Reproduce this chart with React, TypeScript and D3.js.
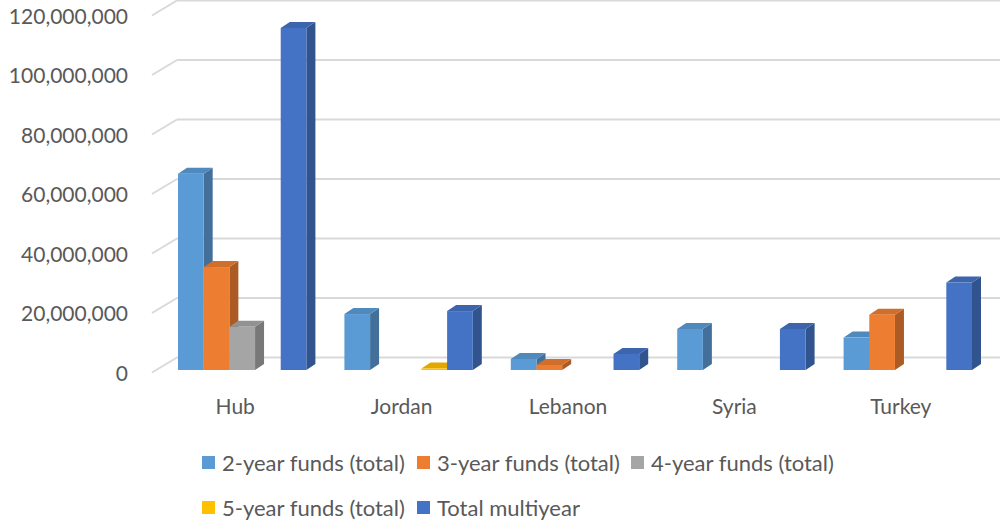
import React from 'react';
import * as d3 from 'd3';

const categories = ['Hub', 'Jordan', 'Lebanon', 'Syria', 'Turkey'];
const seriesNames = [
  '2-year funds (total)',
  '3-year funds (total)',
  '4-year funds (total)',
  '5-year funds (total)',
  'Total multiyear',
];
const twoYear = [66000000, 18800000, 3700000, 13800000, 10900000];
const threeYear = [34600000, 0, 1700000, 0, 18600000];
const fourYear = [14500000, 0, 0, 0, 0];
const fiveYear = [0, 500000, 0, 0, 0];
const totalMultiyear = [115000000, 19800000, 5400000, 13800000, 29400000];
const yTicks = [0, 20000000, 40000000, 60000000, 80000000, 100000000, 120000000];

const seriesValues = [twoYear, threeYear, fourYear, fiveYear, totalMultiyear];
const colors = ['#5B9BD5', '#ED7D31', '#A5A5A5', '#FFC000', '#4472C4'];

const W = 1000;
const H = 528;
const FONT = 'Lato, "Open Sans", sans-serif';
const DX = 9; // depth offset of the 3D bars
const DY = 6;

export default function App() {
  const yFront = d3.scaleLinear().domain([0, 120000000]).range([370, 13]);
  const yBack = d3.scaleLinear().domain([0, 120000000]).range([357.5, 0.5]);
  const x = d3.scaleBand().domain(categories).range([159, 991]).padding(0);
  const inner = d3
    .scaleBand()
    .domain(seriesNames)
    .range([19, x.bandwidth() - 19])
    .padding(0);
  const fmt = d3.format(',');
  const base = yFront(0);
  const w = inner.bandwidth();

  const bars: { key: string; x: number; y: number; c: string }[] = [];
  categories.forEach((cat, ci) => {
    seriesNames.forEach((s, si) => {
      const v = seriesValues[si][ci];
      if (!v) return;
      bars.push({
        key: `${cat}-${si}`,
        x: (x(cat) ?? 0) + (inner(s) ?? 0),
        y: yFront(v),
        c: colors[si],
      });
    });
  });

  const legendRows = [
    [0, 1, 2],
    [3, 4],
  ];
  const legendX = [202, 417, 631];
  const legendY = [463, 508];

  return (
    <svg
      width={W}
      height={H}
      style={{ position: 'absolute', left: 0, top: 0, background: '#fff' }}
      fontFamily={FONT}
    >
      {/* back wall gridlines */}
      {yTicks.map((t) => (
        <g key={t} stroke="#d9d9d9" strokeWidth={2} fill="none">
          <line x1={177} x2={W} y1={yBack(t)} y2={yBack(t)} />
          <line x1={152} y1={yBack(t) + 15} x2={177} y2={yBack(t)} />
        </g>
      ))}
      {yTicks.map((t) => (
        <text
          key={`l${t}`}
          x={128}
          y={yBack(t) + 16}
          dy="0.35em"
          textAnchor="end"
          fontSize={21}
          fill="#595959"
        >
          {fmt(t)}
        </text>
      ))}

      {bars.map((b) => {
        const c = d3.color(b.c)!;
        const side = c.darker(0.9).formatHex();
        const top = c.darker(0.35).formatHex();
        return (
          <g key={b.key}>
            <polygon
              points={`${b.x + w},${b.y} ${b.x + w + DX},${b.y - DY} ${b.x + w + DX},${base - DY} ${b.x + w},${base}`}
              fill={side}
            />
            <polygon
              points={`${b.x},${b.y} ${b.x + DX},${b.y - DY} ${b.x + w + DX},${b.y - DY} ${b.x + w},${b.y}`}
              fill={top}
            />
            <rect x={b.x} y={b.y} width={w} height={base - b.y} fill={b.c} />
          </g>
        );
      })}

      {categories.map((cat) => (
        <text
          key={cat}
          x={(x(cat) ?? 0) + x.bandwidth() / 2 - 7}
          y={407}
          dy="0.35em"
          textAnchor="middle"
          fontSize={21}
          fill="#595959"
        >
          {cat}
        </text>
      ))}

      {legendRows.map((row, ri) =>
        row.map((si, k) => (
          <g key={si} transform={`translate(${legendX[k]},${legendY[ri]})`}>
            <rect x={0} y={-7} width={13} height={13} fill={colors[si]} />
            <text x={20} y={0} dy="0.35em" fontSize={22} fill="#595959">
              {seriesNames[si]}
            </text>
          </g>
        ))
      )}
    </svg>
  );
}
